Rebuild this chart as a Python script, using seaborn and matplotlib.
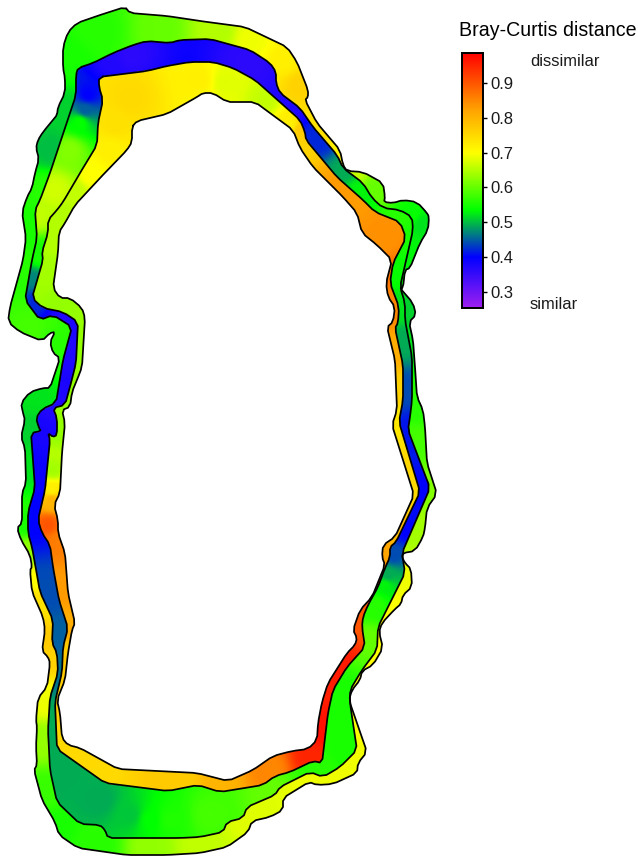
import numpy as np
import matplotlib
matplotlib.use("Agg")
import matplotlib.pyplot as plt
import seaborn as sns
from matplotlib.colors import LinearSegmentedColormap
from matplotlib.patches import PathPatch
from matplotlib.path import Path

# shoreline and depth contours (clockwise, image coords)
edge_a = [(125,7),(130,13),(167,16),(200,21),(245,27),(287,47),(297,62),(308,90),(308,97),(305,100),(317,123),(340,150),(343,165),(347,171),(363,172),(383,183),(385,197),(384,202),(393,203),(403,200),(417,202),(427,213),(429,217),(428,230),(420,243),(410,268),(405,270),(403,288),(400,288),(413,303),(416,315),(409,322),(413,340),(415,367),(417,397),(423,410),(425,427),(427,463),(437,494),(427,508),(425,528),(423,537),(415,551),(403,553),(402,557),(405,563),(411,569),(412,587),(403,595),(401,604),(395,609),(382,623),(379,632),(383,648),(373,665),(362,671),(360,680),(352,690),(349,700),(367,752),(358,763),(357,773),(333,784),(317,785),(309,782),(283,798),(283,810),(270,817),(252,821),(248,832),(227,847),(200,853),(167,855),(127,855),(78,848),(59,835),(55,822),(42,800),(34,770),(37,765),(36,747),(37,727),(36,720),(38,698),(47,687),(50,663),(48,657),(42,651),(45,630),(43,617),(32,592),(30,570),(32,567),(30,555),(21,540),(17,528),(22,523),(22,493),(26,483),(25,448),(21,437),(25,420),(23,413),(21,403),(30,392),(43,388),(50,388),(55,373),(60,358),(53,353),(50,342),(55,332),(50,333),(42,341),(20,332),(8,322),(10,307),(23,260),(26,238),(22,212),(27,197),(32,188),(35,173),(39,159),(36,148),(38,140),(43,132),(53,120),(57,115),(58,107),(65,93),(65,78),(63,68),(63,47),(68,32),(77,23),(97,16)]
edge_b = [(78,68),(93,63),(113,53),(133,45),(147,41),(170,43),(180,40),(210,39),(250,50),(270,63),(276,72),(276,83),(280,93),(300,108),(313,127),(337,155),(343,168),(363,183),(372,198),(383,208),(400,210),(412,217),(413,230),(400,287),(405,303),(405,320),(412,357),(412,400),(410,417),(408,430),(430,488),(402,553),(405,573),(378,627),(377,650),(362,670),(350,690),(350,703),(357,750),(340,767),(323,777),(310,772),(280,787),(275,795),(247,807),(243,818),(227,822),(223,832),(200,837),(180,838),(108,838),(105,830),(100,825),(80,824),(57,802),(50,770),(48,730),(50,697),(58,673),(57,653),(52,643),(53,620),(40,592),(32,547),(28,533),(28,512),(35,488),(31,433),(41,431),(39,428),(36,418),(42,409),(56,403),(63,360),(72,327),(53,315),(40,320),(25,300),(32,260),(37,238),(35,210),(40,200),(50,173),(65,128),(76,95),(76,75)]
edge_c = [(99,77),(147,71),(167,66),(190,62),(213,62),(233,68),(255,80),(300,120),(305,132),(306,140),(337,177),(363,200),(375,212),(400,222),(406,238),(393,263),(390,283),(399,307),(398,323),(395,328),(403,365),(403,400),(399,422),(420,492),(396,542),(390,547),(390,557),(385,568),(378,587),(368,605),(363,617),(362,627),(365,647),(347,667),(333,690),(328,713),(322,763),(313,761),(290,772),(275,776),(263,785),(220,792),(198,785),(168,791),(105,783),(57,749),(55,702),(62,672),(63,647),(68,628),(59,600),(53,567),(50,545),(42,533),(38,520),(45,490),(50,440),(48,433),(53,437),(57,435),(57,418),(53,408),(65,405),(70,387),(76,363),(78,322),(63,312),(43,308),(32,298),(43,260),(42,252),(48,233),(48,220),(57,210),(63,202),(80,173),(97,145),(98,123),(103,100),(99,87)]
edge_d = [(132,127),(137,121),(167,114),(197,97),(203,93),(213,93),(227,102),(240,102),(255,102),(293,130),(300,148),(313,167),(343,197),(357,213),(362,233),(377,245),(392,260),(386,283),(388,297),(395,307),(393,322),(387,327),(395,360),(397,410),(392,425),(414,495),(395,537),(383,545),(382,557),(385,565),(372,597),(360,610),(353,630),(357,638),(355,645),(347,653),(328,683),(322,702),(318,723),(317,740),(308,749),(292,751),(273,756),(253,770),(228,781),(197,773),(118,769),(80,748),(68,745),(62,738),(60,713),(57,700),(65,680),(68,653),(72,630),(75,623),(68,593),(65,553),(58,533),(58,520),(54,505),(60,493),(62,453),(65,423),(62,410),(70,407),(72,392),(77,380),(82,367),(85,318),(82,308),(70,298),(60,298),(53,288),(58,253),(59,232),(65,223),(75,205),(100,178),(127,150),(132,142)]

# distance readings per band: x, y, value
outer_vals = [(100,30,.56),(160,30,.60),(220,32,.65),(250,40,.69),(285,60,.72),(300,85,.76),(320,135,.74),(345,160,.72),(350,172,.66),(375,190,.60),(410,215,.54),(422,225,.52),(410,255,.53),(410,315,.51),(410,340,.52),(418,410,.56),(418,440,.58),(428,490,.62),(415,530,.64),(405,580,.69),(390,610,.70),(383,650,.70),(360,720,.70),(360,765,.69),(320,780,.69),(250,815,.68),(200,845,.66),(150,848,.63),(100,845,.56),(60,825,.55),(45,790,.57),(42,740,.63),(45,700,.69),(50,660,.76),(45,640,.77),(38,600,.74),(37,580,.70),(30,550,.63),(25,525,.55),(28,470,.52),(30,430,.51),(35,395,.52),(50,350,.56),(30,330,.58),(25,270,.56),(30,230,.55),(45,190,.56),(50,150,.50),(65,110,.51),(70,60,.55)]
mid_vals = [(130,55,.36),(250,65,.36),(290,105,.37),(320,140,.42),(345,170,.49),(360,190,.53),(395,218,.56),(408,240,.55),(400,270,.54),(402,310,.52),(405,340,.49),(408,390,.44),(412,430,.41),(425,490,.40),(405,530,.40),(393,555,.44),(388,575,.49),(385,585,.53),(375,605,.56),(368,640,.60),(345,700,.55),(345,750,.55),(320,770,.56),(270,795,.60),(210,815,.58),(170,820,.555),(150,820,.535),(130,815,.505),(100,800,.49),(60,770,.49),(52,720,.49),(57,670,.46),(58,640,.45),(45,590,.44),(35,520,.40),(35,470,.39),(43,430,.38),(52,410,.37),(70,350,.37),(60,320,.37),(38,300,.42),(32,280,.47),(40,255,.55),(38,215,.66),(55,190,.67),(70,150,.62),(80,122,.54),(85,110,.45),(88,95,.40),(110,62,.37)]
inner_vals = [(130,100,.75),(200,80,.72),(225,82,.68),(265,100,.66),(290,125,.72),(300,130,.77),(340,190,.83),(385,240,.84),(393,270,.87),(393,310,.85),(396,350,.81),(399,390,.76),(398,420,.73),(417,490,.75),(395,535,.79),(385,550,.82),(380,580,.87),(365,620,.90),(345,670,.96),(325,730,.97),(310,757,.95),(270,768,.85),(220,785,.80),(180,780,.77),(100,772,.75),(65,745,.75),(58,700,.76),(65,650,.77),(70,630,.81),(65,590,.83),(58,540,.86),(48,525,.90),(52,500,.80),(52,490,.72),(53,470,.64),(60,430,.63),(68,395,.63),(78,340,.63),(60,305,.63),(50,270,.64),(55,240,.65),(62,215,.65),(75,190,.66),(90,175,.70),(110,150,.72),(115,125,.74)]

cbar_ticks = [0.3, 0.4, 0.5, 0.6, 0.7, 0.8, 0.9]
vmin, vmax = 0.254, 0.986
width, height = 638, 856


def make_cmap():
    stops = [(0.254, "#a020f0"), (0.40, "#0000ff"), (0.535, "#00ff00"),
             (0.70, "#ffff00"), (0.82, "#ffa500"), (0.986, "#ff0000")]
    pos = [(p - vmin) / (vmax - vmin) for p, _ in stops]
    return LinearSegmentedColormap.from_list("bc", list(zip(pos, [c for _, c in stops])), N=512)


def band_field(readings):
    # inverse distance weighting, only used to shade between the readings
    yy, xx = np.mgrid[0:height, 0:width]
    top = np.zeros((height, width), dtype="float32")
    bottom = np.zeros((height, width), dtype="float32")
    for x, y, v in readings:
        d2 = (xx + 0.5 - x) ** 2 + (yy + 0.5 - y) ** 2 + 4.0
        w = (1.0 / d2 ** 1.5).astype("float32")
        top += w * v
        bottom += w
    return top / bottom


def soften(edge, cut=4.0):
    # light corner cutting, at most a few pixels so long runs keep their corners
    pts = np.array(edge, dtype=float)
    nxt = np.roll(pts, -1, axis=0)
    seg = np.hypot(*(nxt - pts).T)[:, None]
    frac = np.minimum(0.25, cut / seg)
    out = np.empty((len(pts) * 2, 2))
    out[0::2] = pts + frac * (nxt - pts)
    out[1::2] = nxt - frac * (nxt - pts)
    return out


def ring_path(outer, inner):
    a = np.vstack([outer, outer[:1]])
    b = np.vstack([inner[::-1], inner[-1:]])
    verts = np.vstack([a, b])
    codes = [Path.MOVETO] + [Path.LINETO] * (len(a) - 1) + [Path.MOVETO] + [Path.LINETO] * (len(b) - 1)
    return Path(verts, codes)


sns.set_theme(style="white")
plt.rcParams["font.family"] = ["Liberation Sans", "DejaVu Sans"]

fig = plt.figure(figsize=(6.38, 8.56), dpi=100)
ax = fig.add_axes([0, 0, 1, 1])
cax = fig.add_axes([462 / width, 1 - 308 / height, 21 / width, 255 / height])
cmap = make_cmap()

a, b, c, d = soften(edge_a), soften(edge_b), soften(edge_c), soften(edge_d)
bands = [(a, b, outer_vals), (b, c, mid_vals), (c, d, inner_vals)]
for i, (out_edge, in_edge, readings) in enumerate(bands):
    sns.heatmap(band_field(readings), ax=ax, cmap=cmap, vmin=vmin, vmax=vmax,
                xticklabels=False, yticklabels=False,
                cbar=i == 0, cbar_ax=cax if i == 0 else None)
    patch = PathPatch(ring_path(out_edge, in_edge), transform=ax.transData, fc="none", ec="none")
    ax.collections[-1].set_clip_path(patch)

for edge in [a, b, c, d]:
    pts = np.vstack([edge, edge[:1]])
    sns.lineplot(x=pts[:, 0], y=pts[:, 1], sort=False, estimator=None, color="black",
                 linewidth=1.25, ax=ax, legend=False)

ax.set_xlim(0, width)
ax.set_ylim(height, 0)
ax.axis("off")

cax.set_yticks(cbar_ticks)
cax.set_yticklabels([f"{t:.1f}" for t in cbar_ticks], fontsize=12, color="#1a1a1a")
cax.tick_params(axis="y", length=3, width=1, color="black", pad=2, right=True)
for spine in cax.spines.values():
    spine.set_visible(True)
    spine.set_color("black")
    spine.set_linewidth(1.3)

fig.text(459 / width, 1 - 31 / height, "Bray-Curtis distance", fontsize=14.15, color="black", va="center", ha="left")
fig.text(530 / width, 1 - 61.5 / height, "dissimilar", fontsize=11.9, color="#1a1a1a", va="center", ha="left")
fig.text(530 / width, 1 - 304.5 / height, "similar", fontsize=11.9, color="#1a1a1a", va="center", ha="left")

fig.savefig("out.png", dpi=100)
